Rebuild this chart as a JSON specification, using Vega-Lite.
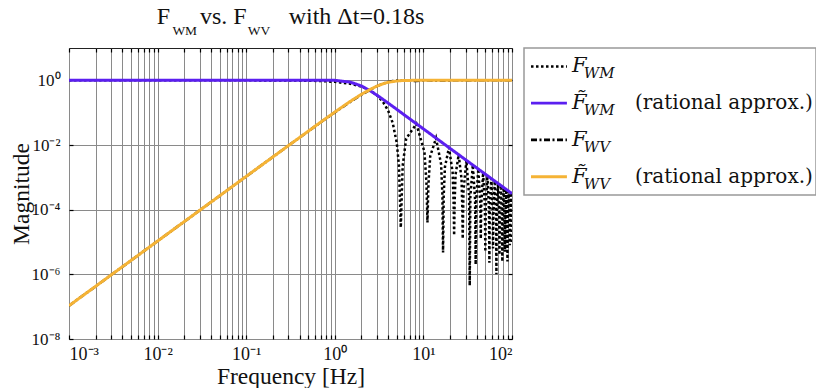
{
  "$schema": "https://vega.github.io/schema/vega-lite/v6.json",
  "autosize": {"type": "pad"},
  "padding": {"left": 8, "top": 4, "right": 0, "bottom": 0},
  "background": "white",
  "bounds": "flush",
  "spacing": 12,
  "config": {
    "font": "Liberation Serif",
    "axis": {
      "labelFont": "Liberation Serif", "labelFontSize": 17, "labelColor": "#111",
      "titleFont": "Liberation Serif", "titleFontSize": 23.5, "titleFontWeight": "normal", "titleColor": "#111",
      "gridColor": "#8a8a8a", "gridWidth": 1, "gridOpacity": 1,
      "domain": false, "tickColor": "#000", "tickSize": -4, "tickWidth": 1.2, "labelOverlap": false
    }
  },
  "datasets": {
    "curves": [
      {"series": "F_WM", "f": 0.001, "mag": 1},
      {"series": "F_WM", "f": 0.01, "mag": 0.99999},
      {"series": "F_WM", "f": 0.1, "mag": 0.9989},
      {"series": "F_WM", "f": 0.3, "mag": 0.9904},
      {"series": "F_WM", "f": 0.5, "mag": 0.9737},
      {"series": "F_WM", "f": 0.7, "mag": 0.9487},
      {"series": "F_WM", "f": 1, "mag": 0.8981},
      {"series": "F_WM", "f": 1.5, "mag": 0.782},
      {"series": "F_WM", "f": 2, "mag": 0.64},
      {"series": "F_WM", "f": 2.5, "mag": 0.488},
      {"series": "F_WM", "f": 3, "mag": 0.342},
      {"series": "F_WM", "f": 3.5, "mag": 0.2152},
      {"series": "F_WM", "f": 4, "mag": 0.116},
      {"series": "F_WM", "f": 4.5, "mag": 0.0485},
      {"series": "F_WM", "f": 5, "mag": 0.0119},
      {"series": "F_WM", "f": 5.3, "mag": 0.0023},
      {"series": "F_WM", "f": 5.556, "mag": 0.000028},
      {"series": "F_WM", "f": 5.833, "mag": 0.00225},
      {"series": "F_WM", "f": 6.389, "mag": 0.01579},
      {"series": "F_WM", "f": 8.333, "mag": 0.04503},
      {"series": "F_WM", "f": 10.278, "mag": 0.0061},
      {"series": "F_WM", "f": 10.833, "mag": 0.000652},
      {"series": "F_WM", "f": 11.111, "mag": 0.00004},
      {"series": "F_WM", "f": 11.389, "mag": 0.00059},
      {"series": "F_WM", "f": 11.944, "mag": 0.00452},
      {"series": "F_WM", "f": 13.889, "mag": 0.01621},
      {"series": "F_WM", "f": 15.833, "mag": 0.00257},
      {"series": "F_WM", "f": 16.389, "mag": 0.000285},
      {"series": "F_WM", "f": 16.667, "mag": 0.0000047},
      {"series": "F_WM", "f": 16.944, "mag": 0.000267},
      {"series": "F_WM", "f": 17.5, "mag": 0.0021},
      {"series": "F_WM", "f": 19.444, "mag": 0.00827},
      {"series": "F_WM", "f": 21.389, "mag": 0.00141},
      {"series": "F_WM", "f": 21.944, "mag": 0.000159},
      {"series": "F_WM", "f": 22.222, "mag": 0.000016},
      {"series": "F_WM", "f": 22.5, "mag": 0.000151},
      {"series": "F_WM", "f": 23.056, "mag": 0.00121},
      {"series": "F_WM", "f": 25, "mag": 0.005},
      {"series": "F_WM", "f": 26.944, "mag": 0.000888},
      {"series": "F_WM", "f": 27.5, "mag": 0.000101},
      {"series": "F_WM", "f": 27.778, "mag": 0.0000126},
      {"series": "F_WM", "f": 28.333, "mag": 0.000372},
      {"series": "F_WM", "f": 30.556, "mag": 0.00335},
      {"series": "F_WM", "f": 32.778, "mag": 0.000278},
      {"series": "F_WM", "f": 33.333, "mag": 0.00000045},
      {"series": "F_WM", "f": 33.889, "mag": 0.00026},
      {"series": "F_WM", "f": 36.111, "mag": 0.0024},
      {"series": "F_WM", "f": 38.333, "mag": 0.000203},
      {"series": "F_WM", "f": 38.889, "mag": 0.000002},
      {"series": "F_WM", "f": 39.444, "mag": 0.000192},
      {"series": "F_WM", "f": 41.667, "mag": 0.0018},
      {"series": "F_WM", "f": 43.889, "mag": 0.000155},
      {"series": "F_WM", "f": 44.444, "mag": 0.0000126},
      {"series": "F_WM", "f": 45, "mag": 0.000147},
      {"series": "F_WM", "f": 47.222, "mag": 0.0014},
      {"series": "F_WM", "f": 49.444, "mag": 0.000122},
      {"series": "F_WM", "f": 50, "mag": 0.000005},
      {"series": "F_WM", "f": 50.556, "mag": 0.000117},
      {"series": "F_WM", "f": 52.778, "mag": 0.00112},
      {"series": "F_WM", "f": 55, "mag": 0.0000987},
      {"series": "F_WM", "f": 55.556, "mag": 0.0000023},
      {"series": "F_WM", "f": 56.111, "mag": 0.0000949},
      {"series": "F_WM", "f": 58.333, "mag": 0.00092},
      {"series": "F_WM", "f": 60.556, "mag": 0.0000814},
      {"series": "F_WM", "f": 61.111, "mag": 0.0000063},
      {"series": "F_WM", "f": 61.667, "mag": 0.0000785},
      {"series": "F_WM", "f": 63.889, "mag": 0.000766},
      {"series": "F_WM", "f": 66.111, "mag": 0.0000683},
      {"series": "F_WM", "f": 66.667, "mag": 0.000001},
      {"series": "F_WM", "f": 67.222, "mag": 0.0000661},
      {"series": "F_WM", "f": 69.444, "mag": 0.000648},
      {"series": "F_WM", "f": 71.667, "mag": 0.0000582},
      {"series": "F_WM", "f": 72.222, "mag": 0.000004},
      {"series": "F_WM", "f": 72.778, "mag": 0.0000564},
      {"series": "F_WM", "f": 75, "mag": 0.000556},
      {"series": "F_WM", "f": 77.222, "mag": 0.0000501},
      {"series": "F_WM", "f": 77.778, "mag": 0.0000025},
      {"series": "F_WM", "f": 78.333, "mag": 0.0000487},
      {"series": "F_WM", "f": 80.556, "mag": 0.000482},
      {"series": "F_WM", "f": 82.778, "mag": 0.0000436},
      {"series": "F_WM", "f": 83.333, "mag": 0.000005},
      {"series": "F_WM", "f": 83.889, "mag": 0.0000424},
      {"series": "F_WM", "f": 86.111, "mag": 0.000422},
      {"series": "F_WM", "f": 88.333, "mag": 0.0000383},
      {"series": "F_WM", "f": 88.889, "mag": 0.0000025},
      {"series": "F_WM", "f": 89.444, "mag": 0.0000373},
      {"series": "F_WM", "f": 91.667, "mag": 0.000372},
      {"series": "F_WM", "f": 93.889, "mag": 0.0000339},
      {"series": "F_WM", "f": 94.444, "mag": 0.0000079},
      {"series": "F_WM", "f": 95, "mag": 0.0000331},
      {"series": "F_WM", "f": 97.222, "mag": 0.000331},
      {"series": "F_WM", "f": 99.444, "mag": 0.0000302},
      {"series": "F_WM", "f": 100, "mag": 0.00001},

      {"series": "Ft_WM", "f": 0.001, "mag": 1},
      {"series": "Ft_WM", "f": 0.1, "mag": 1},
      {"series": "Ft_WM", "f": 0.3, "mag": 1.003},
      {"series": "Ft_WM", "f": 0.5, "mag": 1.009},
      {"series": "Ft_WM", "f": 0.7, "mag": 1.012},
      {"series": "Ft_WM", "f": 1, "mag": 0.9985},
      {"series": "Ft_WM", "f": 1.5, "mag": 0.879},
      {"series": "Ft_WM", "f": 2, "mag": 0.669},
      {"series": "Ft_WM", "f": 2.5, "mag": 0.479},
      {"series": "Ft_WM", "f": 3, "mag": 0.346},
      {"series": "Ft_WM", "f": 4, "mag": 0.198},
      {"series": "Ft_WM", "f": 5, "mag": 0.1268},
      {"series": "Ft_WM", "f": 7, "mag": 0.0644},
      {"series": "Ft_WM", "f": 10, "mag": 0.0315},
      {"series": "Ft_WM", "f": 15, "mag": 0.014},
      {"series": "Ft_WM", "f": 20, "mag": 0.00785},
      {"series": "Ft_WM", "f": 30, "mag": 0.00348},
      {"series": "Ft_WM", "f": 50, "mag": 0.00125},
      {"series": "Ft_WM", "f": 70, "mag": 0.00064},
      {"series": "Ft_WM", "f": 100, "mag": 0.000313},

      {"series": "F_WV", "f": 0.001, "mag": 0.0000001066},
      {"series": "F_WV", "f": 0.01, "mag": 0.00001066},
      {"series": "F_WV", "f": 0.1, "mag": 0.001066},
      {"series": "F_WV", "f": 0.3, "mag": 0.0096},
      {"series": "F_WV", "f": 0.5, "mag": 0.0263},
      {"series": "F_WV", "f": 0.7, "mag": 0.0513},
      {"series": "F_WV", "f": 1, "mag": 0.102},
      {"series": "F_WV", "f": 1.5, "mag": 0.218},
      {"series": "F_WV", "f": 2, "mag": 0.36},
      {"series": "F_WV", "f": 2.5, "mag": 0.512},
      {"series": "F_WV", "f": 3, "mag": 0.658},
      {"series": "F_WV", "f": 3.5, "mag": 0.785},
      {"series": "F_WV", "f": 4, "mag": 0.884},
      {"series": "F_WV", "f": 4.5, "mag": 0.952},
      {"series": "F_WV", "f": 5, "mag": 0.988},
      {"series": "F_WV", "f": 5.556, "mag": 1},
      {"series": "F_WV", "f": 7, "mag": 0.966},
      {"series": "F_WV", "f": 8.333, "mag": 0.955},
      {"series": "F_WV", "f": 10, "mag": 0.989},
      {"series": "F_WV", "f": 11.111, "mag": 1},
      {"series": "F_WV", "f": 13.889, "mag": 0.984},
      {"series": "F_WV", "f": 16.667, "mag": 1},
      {"series": "F_WV", "f": 19.444, "mag": 0.992},
      {"series": "F_WV", "f": 22.222, "mag": 1},
      {"series": "F_WV", "f": 30, "mag": 0.997},
      {"series": "F_WV", "f": 40, "mag": 0.998},
      {"series": "F_WV", "f": 100, "mag": 1},

      {"series": "Ft_WV", "f": 0.001, "mag": 0.000000107},
      {"series": "Ft_WV", "f": 0.01, "mag": 0.0000107},
      {"series": "Ft_WV", "f": 0.1, "mag": 0.00107},
      {"series": "Ft_WV", "f": 0.3, "mag": 0.0096},
      {"series": "Ft_WV", "f": 0.5, "mag": 0.0265},
      {"series": "Ft_WV", "f": 0.7, "mag": 0.052},
      {"series": "Ft_WV", "f": 1, "mag": 0.104},
      {"series": "Ft_WV", "f": 1.5, "mag": 0.225},
      {"series": "Ft_WV", "f": 2, "mag": 0.37},
      {"series": "Ft_WV", "f": 2.5, "mag": 0.52},
      {"series": "Ft_WV", "f": 3, "mag": 0.665},
      {"series": "Ft_WV", "f": 3.5, "mag": 0.78},
      {"series": "Ft_WV", "f": 4, "mag": 0.87},
      {"series": "Ft_WV", "f": 5, "mag": 0.955},
      {"series": "Ft_WV", "f": 6, "mag": 0.99},
      {"series": "Ft_WV", "f": 8, "mag": 1},
      {"series": "Ft_WV", "f": 100, "mag": 1}
    ],
    "legendRows": [
      {"key": "F_WM", "main": "F", "sub": "WM", "note": ""},
      {"key": "Ft_WM", "main": "F\u0303", "sub": "WM", "note": "(rational approx.)"},
      {"key": "F_WV", "main": "F", "sub": "WV", "note": ""},
      {"key": "Ft_WV", "main": "F\u0303", "sub": "WV", "note": "(rational approx.)"}
    ]
  },
  "hconcat": [
    {
      "width": 443,
      "height": 291,
      "title": {
        "text": "F\u00a0\u00a0\u00a0\u00a0\u00a0vs. F\u00a0\u00a0\u00a0\u00a0\u00a0\u00a0\u00a0with \u0394t=0.18s",
        "subtitle": "WM\u00a0\u00a0\u00a0\u00a0\u00a0\u00a0\u00a0\u00a0\u00a0\u00a0\u00a0\u00a0\u00a0\u00a0\u00a0WV\u00a0\u00a0\u00a0\u00a0\u00a0\u00a0\u00a0\u00a0\u00a0\u00a0\u00a0\u00a0\u00a0\u00a0\u00a0\u00a0\u00a0\u00a0\u00a0\u00a0\u00a0\u00a0\u00a0\u00a0\u00a0\u00a0\u00a0\u00a0\u00a0\u00a0\u00a0\u00a0\u00a0\u00a0\u00a0\u00a0\u00a0\u00a0\u00a0\u00a0\u00a0\u200b",
        "font": "Liberation Serif", "fontSize": 24, "fontWeight": "normal", "color": "#111",
        "subtitleFont": "Liberation Serif", "subtitleFontSize": 13.5, "subtitleColor": "#111",
        "subtitlePadding": -5, "offset": 10, "anchor": "middle"
      },
      "view": {"stroke": "#222", "strokeWidth": 1},
      "data": {"name": "curves"},
      "resolve": {"axis": {"x": "independent", "y": "independent"}},
      "layer": [
        {
          "encoding": {
            "x": {
              "field": "f", "type": "quantitative",
              "scale": {"type": "log", "domain": [0.001, 100], "nice": false},
              "axis": {
                "title": "Frequency [Hz]",
                "values": [0.001,0.002,0.003,0.004,0.005,0.006,0.007,0.008,0.009,0.01,0.02,0.03,0.04,0.05,0.06,0.07,0.08,0.09,0.1,0.2,0.3,0.4,0.5,0.6,0.7,0.8,0.9,1,2,3,4,5,6,7,8,9,10,20,30,40,50,60,70,80,90,100],
                "labelExpr": "abs(log(datum.value)/LN10 - round(log(datum.value)/LN10)) < 0.001 ? ['10⁻³','10⁻²','10⁻¹','10⁰','10¹','10²'][round(log(datum.value)/LN10)+3] : ''",
                "grid": true, "labelPadding": 10, "titlePadding": 1, "labelFontSize": 18
              }
            },
            "y": {
              "field": "mag", "type": "quantitative",
              "scale": {"type": "log", "domain": [0.00000001, 10], "nice": false},
              "axis": {
                "title": "Magnitude",
                "values": [0.00000001, 0.000001, 0.0001, 0.01, 1],
                "labelExpr": "['10⁻⁸','','10⁻⁶','','10⁻⁴','','10⁻²','','10⁰'][round(log(datum.value)/LN10)+8]",
                "grid": true, "labelPadding": 13, "titlePadding": -2
              }
            },
            "color": {
              "field": "series", "type": "nominal", "legend": null,
              "scale": {"domain": ["F_WM", "Ft_WM", "F_WV", "Ft_WV"], "range": ["#000000", "#5b1ff0", "#000000", "#f5b335"]}
            },
            "strokeDash": {
              "field": "series", "type": "nominal", "legend": null,
              "scale": {"domain": ["F_WM", "Ft_WM", "F_WV", "Ft_WV"], "range": [[2.5, 2.5], [1, 0], [6, 2.5, 2, 2.5], [1, 0]]}
            }
          },
          "layer": [
            {"transform": [{"filter": "datum.series === 'F_WM'"}], "mark": {"type": "line", "strokeWidth": 2.5, "clip": true}},
            {"transform": [{"filter": "datum.series === 'Ft_WM'"}], "mark": {"type": "line", "strokeWidth": 3, "clip": true}},
            {"transform": [{"filter": "datum.series === 'F_WV'"}], "mark": {"type": "line", "strokeWidth": 2.5, "clip": true}},
            {"transform": [{"filter": "datum.series === 'Ft_WV'"}], "mark": {"type": "line", "strokeWidth": 3, "clip": true}}
          ]
        },
        {
          "transform": [{"filter": "datum.series === 'Ft_WM'"}],
          "mark": {"type": "line", "strokeOpacity": 0, "clip": true},
          "encoding": {
            "x": {
              "field": "f", "type": "quantitative",
              "axis": {
                "orient": "top", "title": null, "labels": false, "grid": false,
                "values": [0.001,0.002,0.003,0.004,0.005,0.006,0.007,0.008,0.009,0.01,0.02,0.03,0.04,0.05,0.06,0.07,0.08,0.09,0.1,0.2,0.3,0.4,0.5,0.6,0.7,0.8,0.9,1,2,3,4,5,6,7,8,9,10,20,30,40,50,60,70,80,90,100]
              }
            },
            "y": {
              "field": "mag", "type": "quantitative",
              "axis": {
                "orient": "right", "title": null, "labels": false, "grid": false,
                "values": [0.00000001, 0.000001, 0.0001, 0.01, 1]
              }
            }
          }
        }
      ]
    },
    {
      "width": 292,
      "height": 147,
      "view": {"stroke": "#999", "strokeWidth": 1.5},
      "data": {"name": "legendRows"},
      "encoding": {
        "y": {"field": "key", "type": "nominal", "axis": null,
              "scale": {"type": "point", "padding": 0.5, "domain": ["F_WM", "Ft_WM", "F_WV", "Ft_WV"]}}
      },
      "layer": [
        {
          "mark": {"type": "rule"},
          "encoding": {
            "x": {"datum": 0.024, "type": "quantitative", "scale": {"domain": [0, 1]}, "axis": null},
            "x2": {"datum": 0.147},
            "color": {
              "field": "key", "type": "nominal", "legend": null,
              "scale": {"domain": ["F_WM", "Ft_WM", "F_WV", "Ft_WV"], "range": ["#000000", "#5b1ff0", "#000000", "#f5b335"]}
            },
            "strokeDash": {
              "field": "key", "type": "nominal", "legend": null,
              "scale": {"domain": ["F_WM", "Ft_WM", "F_WV", "Ft_WV"], "range": [[2.5, 2.5], [1, 0], [6, 2.5, 2, 2.5], [1, 0]]}
            },
            "strokeWidth": {
              "field": "key", "type": "nominal", "legend": null,
              "scale": {"domain": ["F_WM", "Ft_WM", "F_WV", "Ft_WV"], "range": [2.5, 3, 2.5, 3]}
            }
          }
        },
        {
          "mark": {"type": "text", "align": "left", "baseline": "middle", "font": "DejaVu Serif", "fontStyle": "italic", "fontSize": 21, "color": "#111"},
          "encoding": {
            "x": {"datum": 0.164, "type": "quantitative", "scale": {"domain": [0, 1]}, "axis": null},
            "text": {"field": "main"}
          }
        },
        {
          "mark": {"type": "text", "align": "left", "baseline": "middle", "font": "DejaVu Serif", "fontStyle": "italic", "fontSize": 15, "dy": 7, "color": "#111"},
          "encoding": {
            "x": {"datum": 0.205, "type": "quantitative", "scale": {"domain": [0, 1]}, "axis": null},
            "text": {"field": "sub"}
          }
        },
        {
          "mark": {"type": "text", "align": "left", "baseline": "middle", "font": "DejaVu Serif", "fontSize": 20, "color": "#111"},
          "encoding": {
            "x": {"datum": 0.38, "type": "quantitative", "scale": {"domain": [0, 1]}, "axis": null},
            "text": {"field": "note"}
          }
        }
      ]
    }
  ]
}
